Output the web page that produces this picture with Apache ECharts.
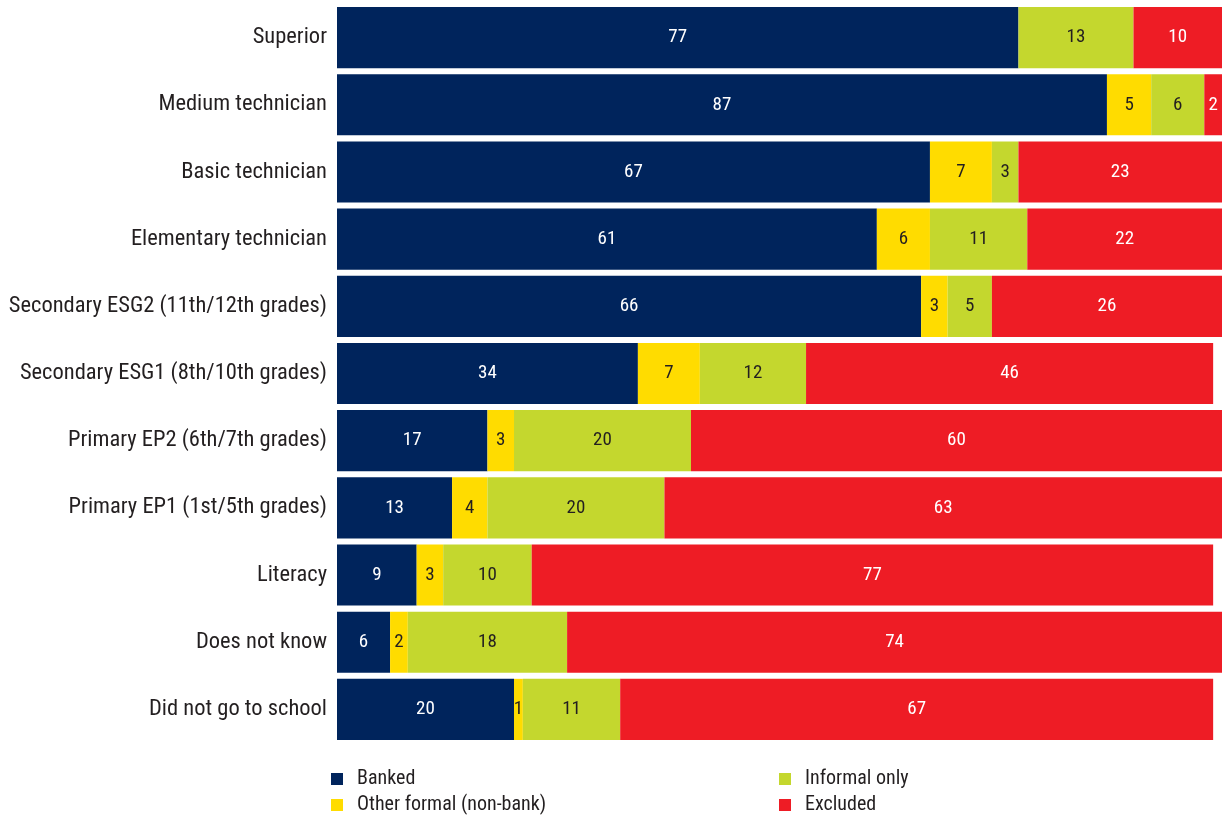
<!DOCTYPE html>
<html>
<head>
<meta charset="utf-8">
<script src="https://cdn.jsdelivr.net/npm/echarts@6/dist/echarts.min.js"></script>
<style>
  html, body { margin: 0; padding: 0; background: #fff; }
  #chart { width: 1222px; height: 816px; }
</style>
</head>
<body>
<div id="chart"></div>
<script>
// Education levels, top to bottom
const categories = [
  'Superior',
  'Medium technician',
  'Basic technician',
  'Elementary technician',
  'Secondary ESG2 (11th/12th grades)',
  'Secondary ESG1 (8th/10th grades)',
  'Primary EP2 (6th/7th grades)',
  'Primary EP1 (1st/5th grades)',
  'Literacy',
  'Does not know',
  'Did not go to school'
];

// Share of adults (%) by access to financial services
const banked        = [77, 87, 67, 61, 66, 34, 17, 13,  9,  6, 20];
const otherFormal   = [ 0,  5,  7,  6,  3,  7,  3,  4,  3,  2,  1];
const informalOnly  = [13,  6,  3, 11,  5, 12, 20, 20, 10, 18, 11];
const excluded      = [10,  2, 23, 22, 26, 46, 60, 63, 77, 74, 67];

const FONT = '"Roboto Condensed", "Liberation Sans Narrow", Roboto, sans-serif';
const TEXT = '#231f20';

function makeSeries(name, data, color, labelColor) {
  return {
    name: name,
    type: 'bar',
    stack: 'total',
    data: data,
    barCategoryGap: '9%',
    itemStyle: { color: color },
    label: {
      show: true,
      position: 'inside',
      color: labelColor,
      fontFamily: FONT,
      fontSize: 19,
      formatter: p => (p.value > 0 ? p.value : '')
    },
    emphasis: { disabled: true }
  };
}

function legendColumn(names, left) {
  return {
    data: names,
    orient: 'vertical',
    left: left,
    top: 769,
    padding: 0,
    itemWidth: 12,
    itemHeight: 12,
    itemGap: 6,
    icon: 'rect',
    selectedMode: false,
    textStyle: {
      color: TEXT,
      fontFamily: FONT,
      fontSize: 20,
      lineHeight: 20,
      padding: [0, 0, 0, 9]
    }
  };
}

const chart = echarts.init(document.getElementById('chart'), null, { renderer: 'canvas' });
chart.setOption({
  animation: false,
  grid: { left: 337, right: 0, top: 4, bottom: 73, containLabel: false },
  xAxis: {
    type: 'value',
    min: 0,
    max: 100,
    show: false
  },
  yAxis: {
    type: 'category',
    data: categories,
    inverse: true,
    axisLine: { show: false },
    axisTick: { show: false },
    axisLabel: {
      margin: 10,
      color: TEXT,
      fontFamily: FONT,
      fontSize: 22.5
    }
  },
  legend: [
    legendColumn(['Banked', 'Other formal (non-bank)'], 331),
    legendColumn(['Informal only', 'Excluded'], 779)
  ],
  series: [
    makeSeries('Banked', banked, '#00245c', '#ffffff'),
    makeSeries('Other formal (non-bank)', otherFormal, '#ffdc00', TEXT),
    makeSeries('Informal only', informalOnly, '#c4d72e', TEXT),
    makeSeries('Excluded', excluded, '#ee1c25', '#ffffff')
  ]
});
</script>
</body>
</html>
